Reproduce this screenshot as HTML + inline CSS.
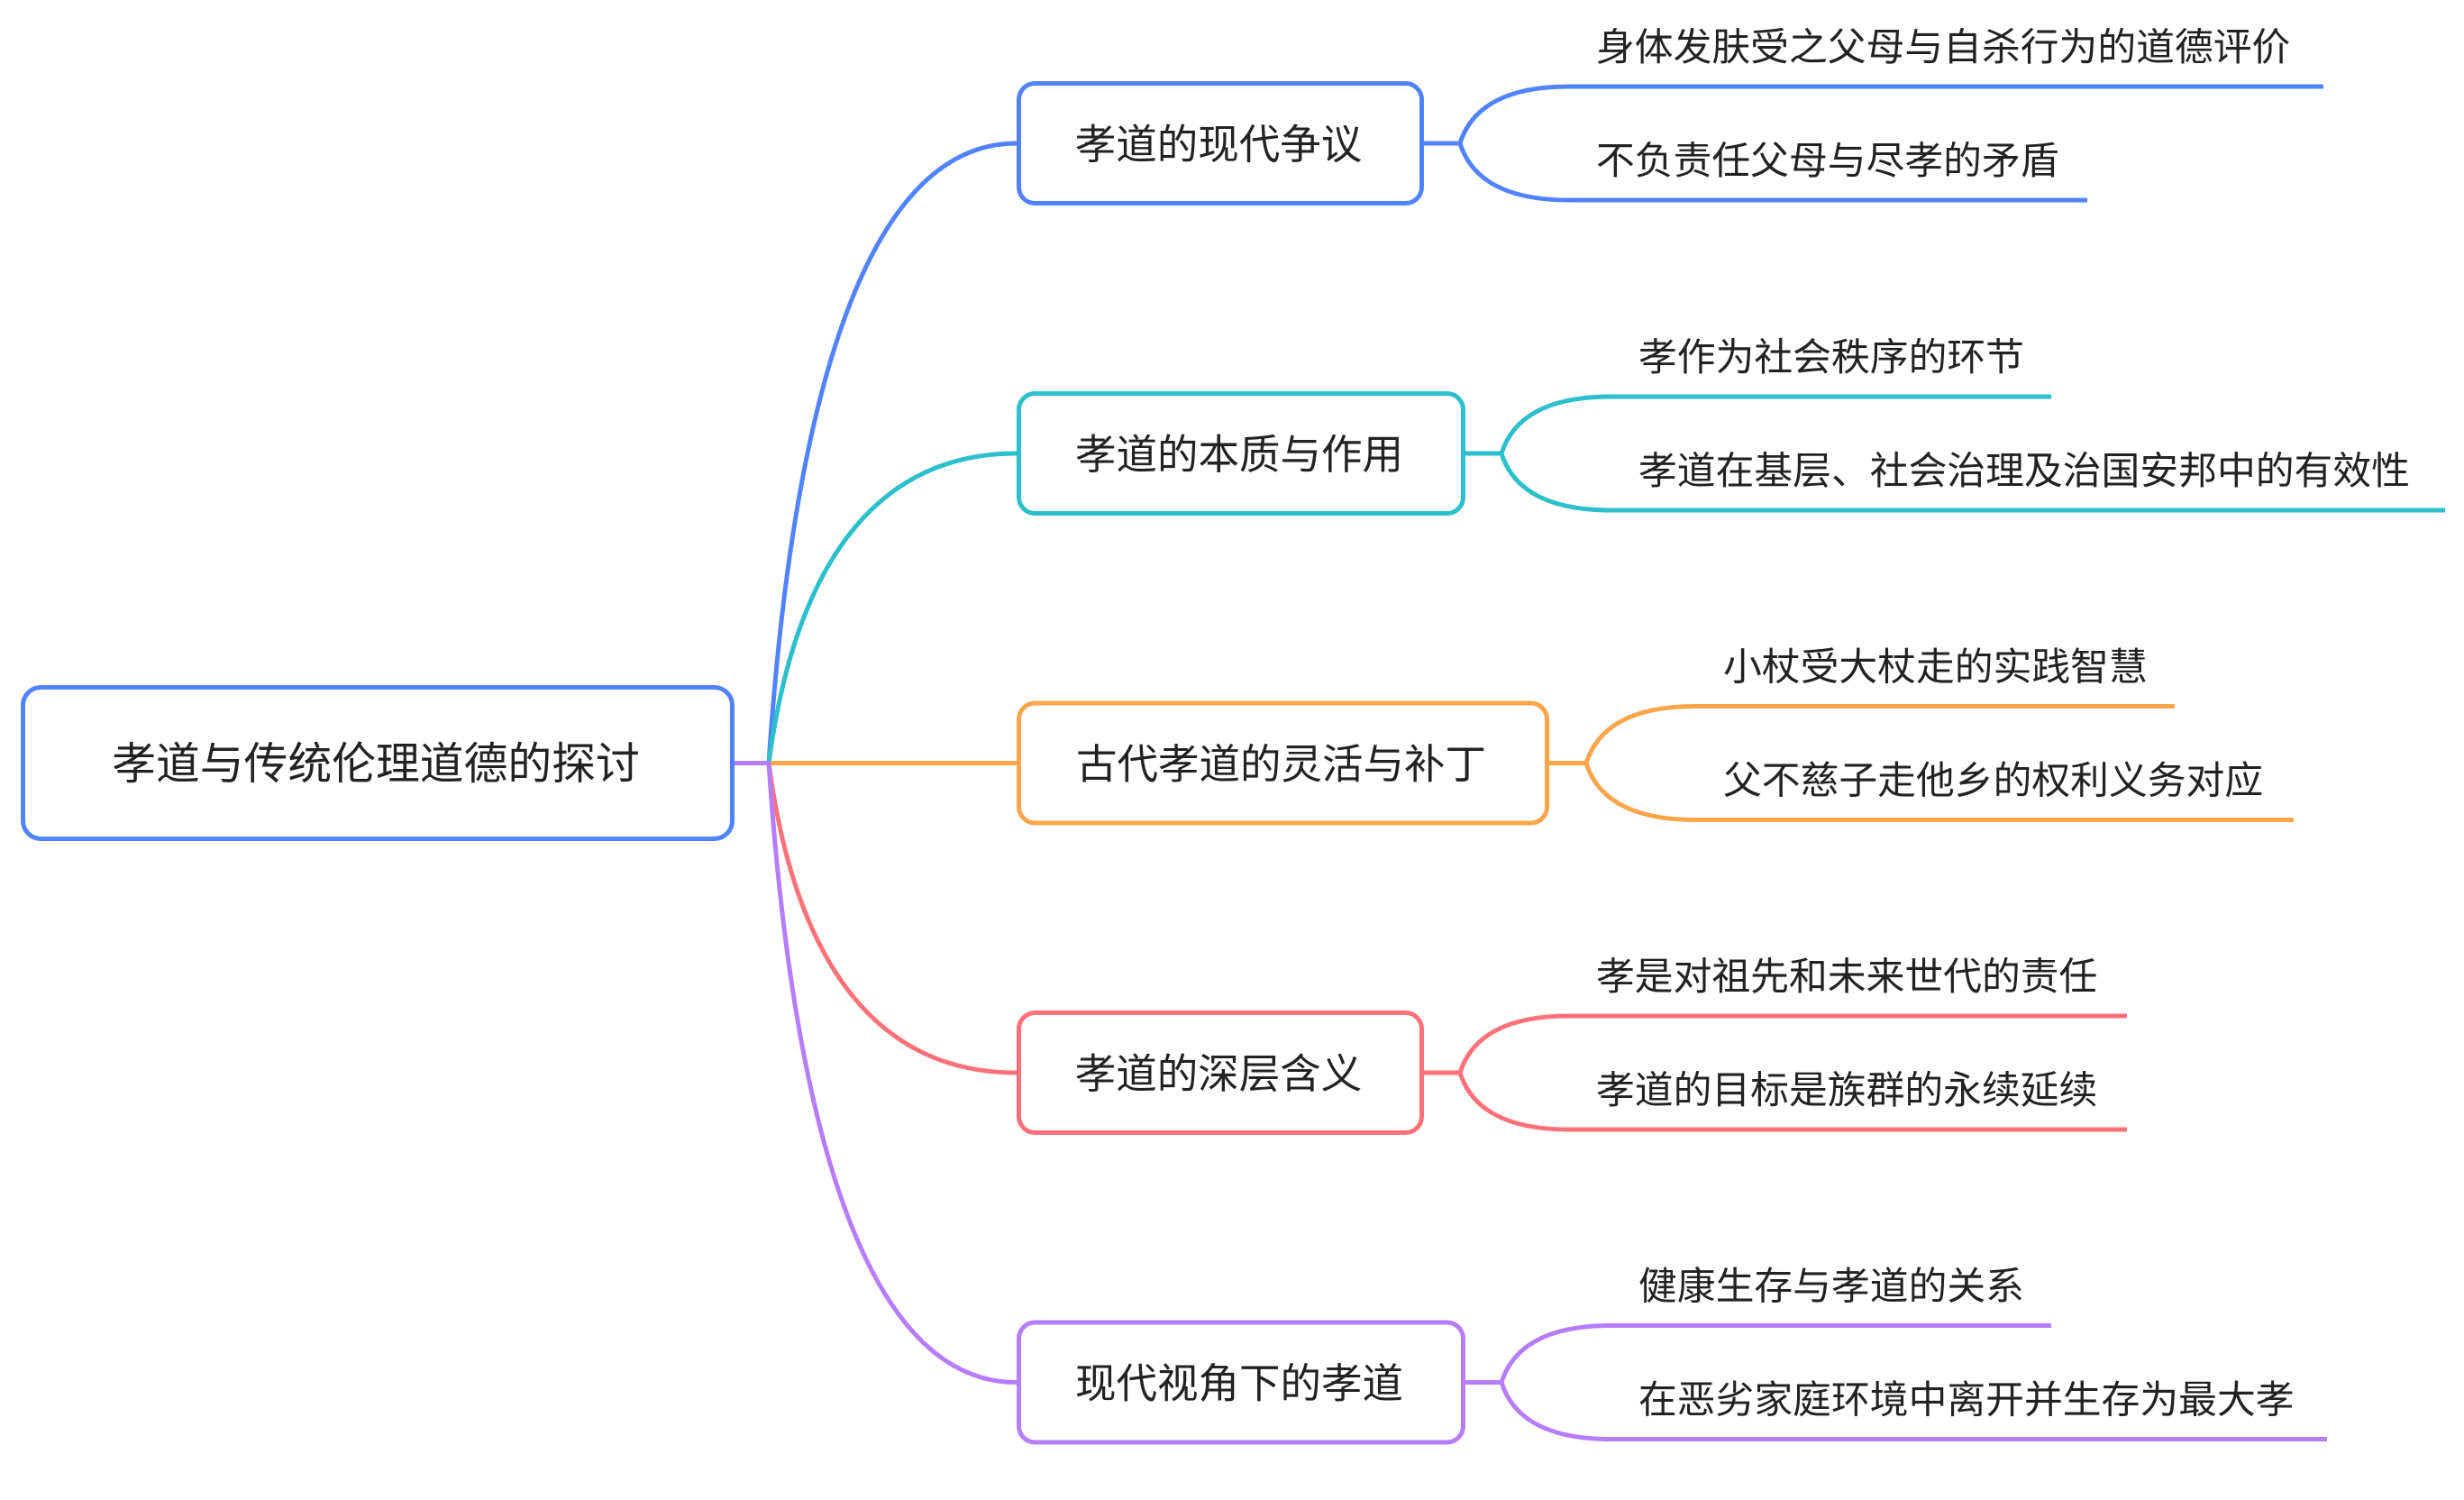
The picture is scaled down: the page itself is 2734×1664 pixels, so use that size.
<!DOCTYPE html>
<html lang="zh">
<head>
<meta charset="utf-8">
<style>
  html,body{margin:0;padding:0;background:#ffffff;}
  body{width:2734px;height:1664px;overflow:hidden;}
  svg{display:block;}
  text{font-family:"Liberation Sans","Noto Sans CJK SC","WenQuanYi Zen Hei",sans-serif;fill:#222222;}
</style>
</head>
<body>
<svg width="2734" height="1664" viewBox="0 0 2734 1664" xmlns="http://www.w3.org/2000/svg">
  <rect x="0" y="0" width="2734" height="1664" fill="#ffffff"/>

  <!-- ===== root connectors ===== -->
  <g fill="none" stroke-width="5" stroke-linecap="butt">
    <path d="M853,846.5 C880.5,434 963,159 1128,159" stroke="#5283FF"/>
    <path d="M853,846.5 C880.5,640 963,503 1128,503" stroke="#2CBFCC"/>
    <path d="M853,846.5 L1128,846.5" stroke="#F9A54A"/>
    <path d="M853,846.5 C880.5,1053 963,1190 1128,1190" stroke="#FF7178"/>
    <path d="M853,846.5 C880.5,1259 963,1533.5 1128,1533.5" stroke="#B67DFB"/>
    <path d="M813,846.5 L855,846.5" stroke="#B67DFB"/>
  </g>

  <!-- ===== root node ===== -->
  <rect x="25.5" y="762.5" width="787" height="168" rx="20" ry="20" fill="#ffffff" stroke="#5283FF" stroke-width="5"/>
  <text x="417" y="864" font-size="48.8" text-anchor="middle">孝道与传统伦理道德的探讨</text>

  <!-- ===== Branch 1 (blue) cy=159 ===== -->
  <g fill="none" stroke="#5283FF" stroke-width="5">
    <path d="M1578,159 L1620,159"/>
    <path d="M1620,159 C1632,121 1668,96 1741,96 L2578,96"/>
    <path d="M1620,159 C1632,197 1668,222 1741,222 L2316,222"/>
  </g>
  <rect x="1130.5" y="92.5" width="447" height="133" rx="18" ry="18" fill="#ffffff" stroke="#5283FF" stroke-width="5"/>
  <text x="1352" y="176" font-size="45.5" text-anchor="middle">孝道的现代争议</text>
  <text x="1771" y="67" font-size="42.8">身体发肤受之父母与自杀行为的道德评价</text>
  <text x="1771" y="193" font-size="42.8">不负责任父母与尽孝的矛盾</text>

  <!-- ===== Branch 2 (teal) cy=503 ===== -->
  <g fill="none" stroke="#2CBFCC" stroke-width="5">
    <path d="M1624,503 L1666,503"/>
    <path d="M1666,503 C1678,465 1714,440 1787,440 L2276,440"/>
    <path d="M1666,503 C1678,541 1714,566 1787,566 L2713,566"/>
  </g>
  <rect x="1130.5" y="436.5" width="493" height="133" rx="18" ry="18" fill="#ffffff" stroke="#2CBFCC" stroke-width="5"/>
  <text x="1375" y="520" font-size="45.5" text-anchor="middle">孝道的本质与作用</text>
  <text x="1818" y="411" font-size="42.8">孝作为社会秩序的环节</text>
  <text x="1818" y="537" font-size="42.8">孝道在基层、社会治理及治国安邦中的有效性</text>

  <!-- ===== Branch 3 (orange) cy=846.5 ===== -->
  <g fill="none" stroke="#F9A54A" stroke-width="5">
    <path d="M1717,846.5 L1760,846.5"/>
    <path d="M1760,846.5 C1772,808.5 1808,783.5 1881,783.5 L2413,783.5"/>
    <path d="M1760,846.5 C1772,884.5 1808,909.5 1881,909.5 L2545,909.5"/>
  </g>
  <rect x="1130.5" y="780" width="586" height="133" rx="18" ry="18" fill="#ffffff" stroke="#F9A54A" stroke-width="5"/>
  <text x="1421.5" y="863.5" font-size="45.5" text-anchor="middle">古代孝道的灵活与补丁</text>
  <text x="1912" y="754.5" font-size="42.8">小杖受大杖走的实践智慧</text>
  <text x="1912" y="880.5" font-size="42.8">父不慈子走他乡的权利义务对应</text>

  <!-- ===== Branch 4 (red) cy=1190 ===== -->
  <g fill="none" stroke="#FF7178" stroke-width="5">
    <path d="M1578,1190 L1620,1190"/>
    <path d="M1620,1190 C1632,1152 1668,1127 1741,1127 L2360,1127"/>
    <path d="M1620,1190 C1632,1228 1668,1253 1741,1253 L2360,1253"/>
  </g>
  <rect x="1130.5" y="1123.5" width="447" height="133" rx="18" ry="18" fill="#ffffff" stroke="#FF7178" stroke-width="5"/>
  <text x="1352" y="1207" font-size="45.5" text-anchor="middle">孝道的深层含义</text>
  <text x="1771" y="1098" font-size="42.8">孝是对祖先和未来世代的责任</text>
  <text x="1771" y="1224" font-size="42.8">孝道的目标是族群的永续延续</text>

  <!-- ===== Branch 5 (purple) cy=1533.5 ===== -->
  <g fill="none" stroke="#B67DFB" stroke-width="5">
    <path d="M1624,1533.5 L1666,1533.5"/>
    <path d="M1666,1533.5 C1678,1495.5 1714,1470.5 1787,1470.5 L2276,1470.5"/>
    <path d="M1666,1533.5 C1678,1571.5 1714,1596.5 1787,1596.5 L2582,1596.5"/>
  </g>
  <rect x="1130.5" y="1467" width="493" height="133" rx="18" ry="18" fill="#ffffff" stroke="#B67DFB" stroke-width="5"/>
  <text x="1375" y="1550.5" font-size="45.5" text-anchor="middle">现代视角下的孝道</text>
  <text x="1818" y="1441.5" font-size="42.8">健康生存与孝道的关系</text>
  <text x="1818" y="1567.5" font-size="42.8">在恶劣家庭环境中离开并生存为最大孝</text>
</svg>
</body>
</html>
